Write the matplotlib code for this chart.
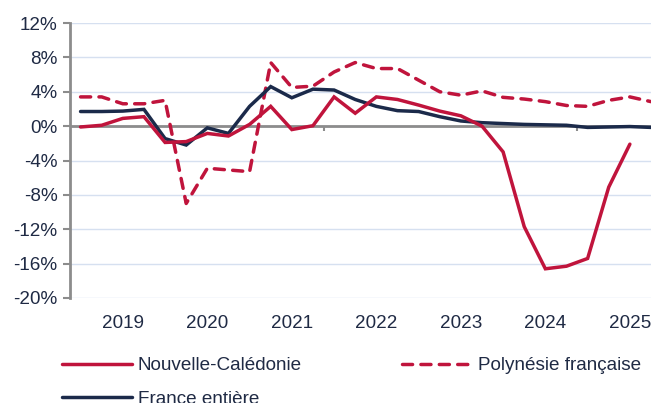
import numpy as np
import matplotlib
matplotlib.use('Agg')
import matplotlib.pyplot as plt

# quarterly year-on-year change, %
years = ['2019', '2020', '2021', '2022', '2023', '2024', '2025']
nc = [-0.1, 0.1, 0.9, 1.1, -1.9, -1.8, -0.85, -1.15, 0.2, 2.3, -0.4, 0.05,
      3.4, 1.5, 3.4, 3.1, 2.45, 1.75, 1.2, 0.0, -3.0, -11.7, -16.6, -16.3,
      -15.4, -7.1, -2.1]
pf = [3.4, 3.4, 2.6, 2.6, 3.0, -9.0, -4.9, -5.1, -5.3, 7.4, 4.5, 4.65,
      6.3, 7.4, 6.7, 6.7, 5.35, 4.0, 3.6, 4.1, 3.35, 3.15, 2.85, 2.4,
      2.3, 3.0, 3.4, 2.85]
fr = [1.7, 1.7, 1.75, 1.95, -1.45, -2.2, -0.2, -0.85, 2.3, 4.6, 3.3, 4.3,
      4.2, 3.1, 2.3, 1.8, 1.7, 1.1, 0.6, 0.4, 0.3, 0.2, 0.15, 0.1,
      -0.15, -0.1, -0.05, -0.15]

red = '#C0143C'
navy = '#1B2A4A'
txt = '#1F2A44'
fs = 13.6
plt.rcParams['font.family'] = ['Liberation Sans', 'DejaVu Sans']

fig = plt.figure(figsize=(6.51, 4.03), dpi=100)
ax = fig.add_axes([70/651, 1-298/403, 1-70/651, (298-23)/403])

ax.set_ylim(-20, 12)
ax.set_xlim(-0.5, 27)
ax.set_yticks(np.arange(-20, 13, 4))
ax.set_yticklabels(['%d%%' % v for v in np.arange(-20, 13, 4)], color=txt, fontsize=fs)
ax.grid(axis='y', color='#D6E0F0', lw=1)
ax.set_axisbelow(True)

ax.axhline(0, color='#8C8C8C', lw=2, zorder=1)
ax.vlines([11.5, 23.5], -0.55, 0, color='#8C8C8C', lw=1.5, zorder=1)

l1, = ax.plot(np.arange(len(nc)), nc, color=red, lw=2.5, label='Nouvelle-Calédonie', zorder=4,
              solid_joinstyle='miter', solid_capstyle='round')
l2, = ax.plot(np.arange(len(pf)), pf, color=red, lw=2.5, ls=(0, (2.9, 2.4)), label='Polynésie française',
              zorder=3, dash_capstyle='round')
l3, = ax.plot(np.arange(len(fr)), fr, color=navy, lw=2.5, label='France entière', zorder=3,
              solid_joinstyle='miter', solid_capstyle='round')

ax.set_xticks(np.arange(2, 27, 4))
ax.set_xticklabels(years, color=txt, fontsize=fs)
ax.tick_params(axis='x', length=0, pad=12)
ax.tick_params(axis='y', length=5, width=1.5, color='#8C8C8C', pad=4)

for s in ['top', 'right', 'bottom']:
    ax.spines[s].set_visible(False)
ax.spines['left'].set_color('#8C8C8C')
ax.spines['left'].set_linewidth(2)

# column-wise fill: NC, France in col 1, Polynesie in col 2
fig.legend(handles=[l1, l3, l2], ncol=2, loc='upper left', bbox_to_anchor=(62/651, 1-357/403),
           frameon=False, fontsize=fs, handlelength=3.7, handletextpad=0.32,
           columnspacing=5.3, labelspacing=0.86, labelcolor=txt,
           borderpad=0, borderaxespad=0)

plt.savefig('out.png', dpi=100)
